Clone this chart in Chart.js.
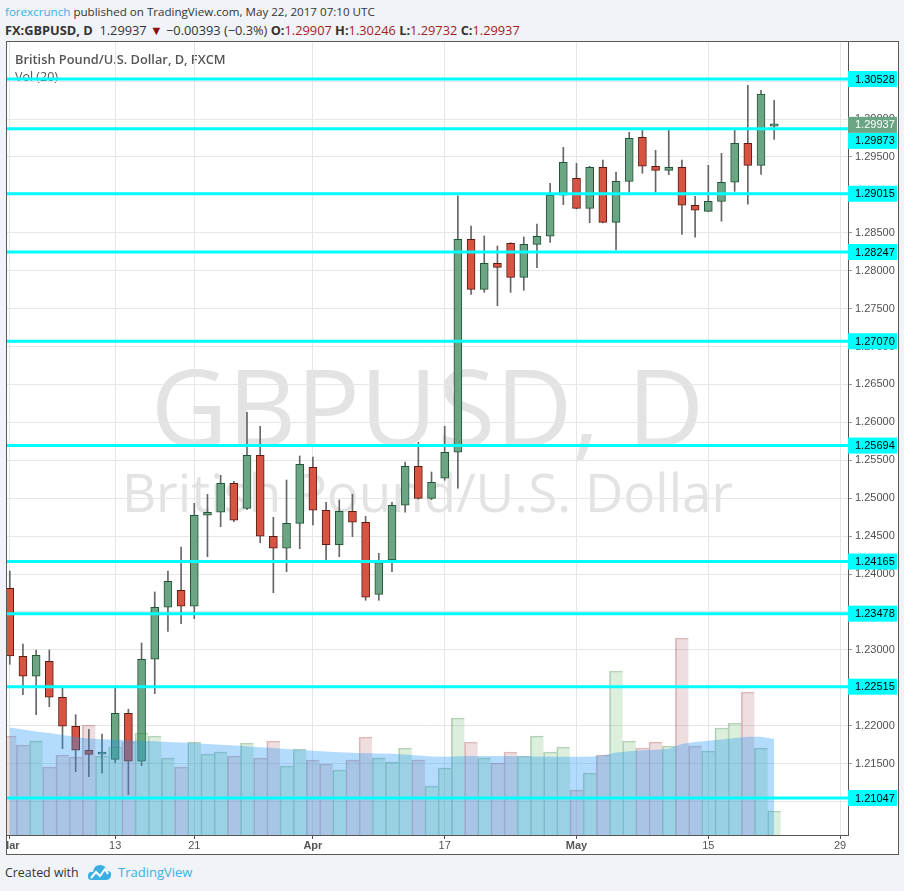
<!DOCTYPE html>
<html><head><meta charset="utf-8">
<script src="https://cdn.jsdelivr.net/npm/chart.js@4.4.1/dist/chart.umd.min.js"></script>
<style>
body{margin:0;width:904px;height:891px;background:#f0f3f7;position:relative;overflow:hidden;font-family:'Open Sans',sans-serif;color:#333}
.hdr{position:absolute;left:5px;white-space:nowrap;line-height:16px}
.red{color:#a51d1d}
#box{position:absolute;left:6px;top:41px;width:891px;height:812px;background:#fff;border:1px solid #5a5a5a}
#c{position:absolute;left:0;top:0}
</style></head><body>
<div class="hdr" id="h1" style="top:4px;font-size:11.6px"><span style="color:#3bb0e2">forexcrunch</span> published on TradingView.com, May 22, 2017 07:10 UTC</div>
<div class="hdr" id="h2" style="top:22px;font-size:12.8px"></div>
<div id="box"><canvas id="c" width="891" height="812"></canvas></div>
<div style="position:absolute;left:5px;top:864px;font-size:12.4px;color:#333;white-space:nowrap;line-height:17px">Created with</div>
<svg style="position:absolute;left:87px;top:863px" width="25" height="19" viewBox="0 0 25 19">
<path d="M5 17 Q0 17 1 12 Q2 8 6 9 Q7 2 13 2 Q19 2 20 8 Q25 8 24 13 Q23 17 19 17 Z" fill="#3bb0e2"/>
<polyline points="4,15 9,9 13,13 18,6 21,11" fill="none" stroke="#fff" stroke-width="2"/>
</svg>
<div style="position:absolute;left:118px;top:864px;font-size:13px;color:#3bb0e2;line-height:17px">TradingView</div>
<script>
// ---------- data ----------
const tradingDays = ['Mar 1','Mar 2','Mar 3','Mar 6','Mar 7','Mar 8','Mar 9','Mar 10','Mar 13','Mar 14','Mar 15','Mar 16','Mar 17','Mar 20','Mar 21','Mar 22','Mar 23','Mar 24','Mar 27','Mar 28','Mar 29','Mar 30','Mar 31',
 'Apr 3','Apr 4','Apr 5','Apr 6','Apr 7','Apr 10','Apr 11','Apr 12','Apr 13','Apr 14','Apr 17','Apr 18','Apr 19','Apr 20','Apr 21','Apr 24','Apr 25','Apr 26','Apr 27','Apr 28',
 'May 1','May 2','May 3','May 4','May 5','May 8','May 9','May 10','May 11','May 12','May 15','May 16','May 17','May 18','May 19','May 22'];
const openP  = [1.23812,1.22916,1.22652,1.22850,1.22375,1.21993,1.21676,1.21625,1.21557,1.22164,1.21531,1.22876,1.23562,1.23786,1.23575,1.24775,1.24815,1.25197,1.24867,1.25566,1.24498,1.24340,1.24669,
 1.25408,1.24841,1.24387,1.24828,1.24683,1.23733,1.24185,1.24907,1.25421,1.24999,1.25263,1.25606,1.28414,1.27755,1.28098,1.28362,1.27913,1.28348,1.28454,1.28995,
 1.29219,1.28823,1.29364,1.28638,1.29179,1.29759,1.29377,1.29324,1.29364,1.28863,1.28783,1.28915,1.29166,1.29680,1.29390,1.29907];
const highP  = [1.24040,1.23078,1.22999,1.22999,1.22502,1.22146,1.21953,1.21891,1.22502,1.22217,1.23091,1.23764,1.24040,1.24357,1.24933,1.25052,1.25302,1.25223,1.26133,1.25948,1.24749,1.25240,1.25557,
 1.25544,1.24946,1.24977,1.25052,1.24762,1.24274,1.24946,1.25478,1.25737,1.25346,1.25948,1.28989,1.28590,1.28458,1.28326,1.28370,1.28445,1.28616,1.29153,1.29627,
 1.29416,1.29377,1.29460,1.29302,1.29825,1.29869,1.29588,1.29869,1.29460,1.28981,1.29390,1.29548,1.29869,1.30445,1.30379,1.30246];
const lowP   = [1.22810,1.22409,1.22146,1.22251,1.21697,1.21394,1.21328,1.21373,1.21513,1.21091,1.21473,1.22423,1.23245,1.23346,1.23412,1.24229,1.24625,1.24691,1.24849,1.24414,1.23754,1.24031,1.24335,
 1.24647,1.24185,1.24229,1.24493,1.23654,1.23654,1.24031,1.24815,1.24990,1.24981,1.25237,1.25131,1.27689,1.27715,1.27539,1.27715,1.27742,1.28040,1.28372,1.28871,
 1.28815,1.28633,1.28630,1.28277,1.29034,1.29285,1.29034,1.29266,1.28480,1.28441,1.28780,1.28652,1.29047,1.28876,1.29271,1.29732];
const closeP = [1.22919,1.22652,1.22929,1.22375,1.21993,1.21676,1.21623,1.21635,1.22164,1.21531,1.22876,1.23562,1.23905,1.23575,1.24775,1.24815,1.25197,1.24709,1.25566,1.24498,1.24340,1.24669,1.25447,
 1.24841,1.24387,1.24828,1.24683,1.23694,1.24150,1.24907,1.25421,1.24999,1.25210,1.25606,1.28414,1.27755,1.28098,1.28045,1.27913,1.28348,1.28454,1.28998,1.29430,
 1.28823,1.29364,1.28638,1.29179,1.29746,1.29377,1.29324,1.29364,1.28863,1.28797,1.28915,1.29166,1.29680,1.29390,1.30330,1.29937];
const volume = [9900,9000,9400,6800,8000,7800,11000,7900,8800,9300,10200,9900,7700,6800,9300,8100,8300,7900,9200,7700,9400,6900,8600,
 7500,7100,6500,7500,9800,7700,7300,8700,7500,4900,6700,11700,9300,7700,7200,8300,7900,9900,8300,8800,
 4500,6200,8000,16400,9400,8700,9300,8900,19700,8900,8400,10700,11200,14300,8700,2400];
const volumeMA20 = [10750,10550,10350,10200,10000,9800,9650,9570,9520,9470,9420,9370,9300,9250,9200,9100,9030,8950,8870,8780,8700,8600,8500,
 8420,8350,8280,8220,8180,8150,8120,8050,7950,7850,7830,7870,7900,7900,7900,7900,7870,7850,7830,7830,
 7830,7830,7950,8250,8370,8470,8530,8630,9100,9300,9430,9550,9700,9830,9830,9600];
const srLevels = [1.30528,1.29873,1.29015,1.28247,1.27070,1.25694,1.24165,1.23478,1.22515,1.21047];
const xTickIndex  = [0,8,14,23,33,43,53,63];
const xTickLabels = ['Mar','13','21','Apr','17','May','15','29'];
const monthLabels = ['Mar','Apr','May'];

// ---------- header from data ----------
const L = closeP.length - 1;
const chg = closeP[L] - closeP[L-1];
const pct = chg / closeP[L-1] * 100;
const mn = v => (v < 0 ? '\u2212' : '') + Math.abs(v).toFixed(5);
document.getElementById('h2').innerHTML =
  '<b>FX:GBPUSD, D</b>&nbsp; ' + closeP[L].toFixed(5) + ' <span style="color:#8b1010">\u25BC</span> ' + mn(chg) +
  ' (' + (pct < 0 ? '\u2212' : '') + Math.abs(pct).toFixed(1) + '%) ' +
  '<b>O:</b><span class="red">' + openP[L].toFixed(5) + '</span> <b>H:</b><span class="red">' + highP[L].toFixed(5) +
  '</span> <b>L:</b><span class="red">' + lowP[L].toFixed(5) + '</span> <b>C:</b><span class="red">' + closeP[L].toFixed(5) + '</span>';

// ---------- chart ----------
const up = closeP.map((c, i) => c >= openP[i]);
const AX = '"Liberation Sans", Arial, sans-serif';

const bgText = {
  id: 'bgText',
  beforeDraw(chart) {
    const { ctx, chartArea: a } = chart;
    const cx = (a.left + a.right) / 2;
    ctx.save();
    ctx.fillStyle = '#e3e3e3';
    ctx.textAlign = 'center';
    ctx.textBaseline = 'alphabetic';
    ctx.font = '106px "Open Sans", sans-serif';
    ctx.fillText('GBPUSD, D', cx, a.top + 404);
    ctx.font = '53px "Open Sans", sans-serif';
    ctx.fillText('British Pound/U.S. Dollar', cx, a.top + 470);
    ctx.textAlign = 'left';
    ctx.textBaseline = 'middle';
    ctx.fillStyle = '#555';
    ctx.font = '600 12.8px "Open Sans", sans-serif';
    ctx.fillText('British Pound/U.S. Dollar, D, FXCM', a.left + 8, a.top + 18);
    ctx.font = '12.5px "Open Sans", sans-serif';
    ctx.fillText('Vol (20)', a.left + 8, a.top + 35);
    ctx.restore();
  }
};

const levelsPlugin = {
  id: 'levels',
  afterDraw(chart) {
    const { ctx, chartArea: a, scales: { y } } = chart;
    const boxW = chart.width - a.right - 1, boxH = 16;
    ctx.save();
    ctx.strokeStyle = '#00ffff';
    ctx.lineWidth = 3;
    srLevels.forEach(v => {
      const py = y.getPixelForValue(v);
      ctx.beginPath(); ctx.moveTo(a.left, py); ctx.lineTo(a.right, py); ctx.stroke();
    });
    const cur = closeP[L];
    const yCur = y.getPixelForValue(cur) + 1;
    ctx.font = '11px ' + AX;
    ctx.textBaseline = 'middle';
    srLevels.forEach(v => {
      let py = y.getPixelForValue(v);
      if (Math.abs(py - yCur) < boxH) py = py > yCur ? yCur + boxH : yCur - boxH;
      ctx.fillStyle = '#00ffff';
      ctx.fillRect(a.right, py - boxH / 2, boxW, boxH);
      ctx.fillStyle = '#000';
      ctx.fillText(v.toFixed(5), a.right + 7, py + 0.5);
    });
    ctx.fillStyle = '#6ba583';
    ctx.fillRect(a.right, yCur - boxH / 2, boxW, boxH);
    ctx.fillStyle = '#fff';
    ctx.fillText(cur.toFixed(5), a.right + 7, yCur + 0.5);
    ctx.restore();
  }
};

new Chart(document.getElementById('c'), {
  type: 'bar',
  data: {
    datasets: [
      { type: 'line', label: 'Vol MA', yAxisID: 'yVol', order: 0,
        data: volumeMA20.map((v, i) => ({ x: i, y: v })),
        backgroundColor: 'rgba(33,150,243,0.34)', borderWidth: 0, pointRadius: 0, fill: 'origin' },
      { type: 'bar', label: 'Volume', yAxisID: 'yVol', order: 1, grouped: false,
        data: volume.map((v, i) => ({ x: i, y: v })),
        backgroundColor: up.map(u => u ? 'rgba(76,175,80,0.2)' : 'rgba(175,90,95,0.2)'),
        borderColor: up.map(u => u ? 'rgba(60,130,70,0.35)' : 'rgba(160,70,75,0.35)'),
        borderWidth: { top: 1, left: 1, right: 0, bottom: 0 }, borderSkipped: false,
        barPercentage: 1, categoryPercentage: 1 },
      { type: 'bar', label: 'Body', yAxisID: 'y', order: 2, grouped: false,
        data: openP.map((o, i) => ({ x: i, y: [Math.min(o, closeP[i]), Math.max(o, closeP[i])] })),
        backgroundColor: up.map(u => u ? '#6ba583' : '#d75442'),
        borderColor: up.map(u => u ? '#225437' : '#5b1a13'),
        borderWidth: 1, borderSkipped: false, barThickness: 8, minBarLength: 2 },
      { type: 'bar', label: 'Wick', yAxisID: 'y', order: 3, grouped: false,
        data: lowP.map((l, i) => ({ x: i, y: [l, highP[i]] })),
        backgroundColor: '#666', barThickness: 1 }
    ]
  },
  options: {
    responsive: false, animation: false, devicePixelRatio: 1,
    layout: { padding: 0 },
    plugins: { legend: { display: false }, tooltip: { enabled: false } },
    scales: {
      x: {
        type: 'linear', position: 'bottom', min: -0.21, max: 63.6, offset: false,
        afterBuildTicks(s) { s.ticks = xTickIndex.map(v => ({ value: v })); },
        afterFit(s) { s.height = 19; s.paddingLeft = 0; s.paddingRight = 0; },
        grid: { color: '#e6e6e6', tickColor: '#555', tickLength: 4, offset: false },
        border: { color: '#555' },
        ticks: {
          autoSkip: false, maxRotation: 0, padding: 0, color: '#555',
          font: c => ({ family: AX, size: 11, weight: (c.tick && monthLabels.includes(c.tick.label)) ? 'bold' : 'normal' }),
          callback: v => { const k = xTickIndex.indexOf(v); return k >= 0 ? xTickLabels[k] : ''; }
        }
      },
      y: {
        type: 'linear', position: 'right', min: 1.20559, max: 1.31016,
        afterFit(s) { s.width = 50; s.paddingTop = 0; s.paddingBottom = 0; },
        afterBuildTicks(s) { s.ticks = s.ticks.filter(t => t.value < s.max - 0.0008); },
        grid: { color: '#e6e6e6', tickColor: '#999', tickLength: 4 },
        border: { color: '#555' },
        ticks: { stepSize: 0.005, includeBounds: false, padding: 3, color: '#505050',
          font: { family: AX, size: 11 }, callback: v => v.toFixed(5) }
      },
      yVol: { type: 'linear', display: false, min: 0, max: 79300 }
    }
  },
  plugins: [bgText, levelsPlugin]
});
</script>
</body></html>
